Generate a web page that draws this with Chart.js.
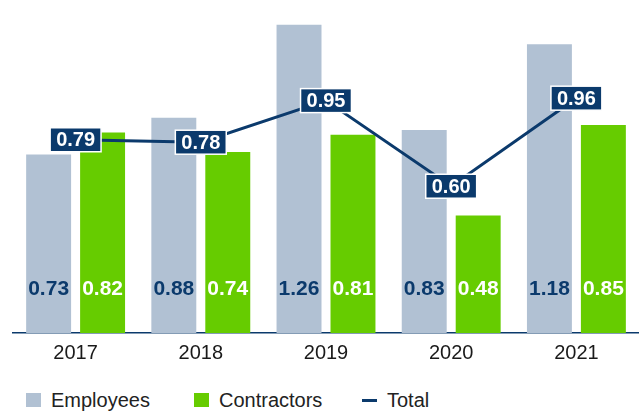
<!DOCTYPE html>
<html>
<head>
<meta charset="utf-8">
<script src="https://cdn.jsdelivr.net/npm/chart.js@4.4.0/dist/chart.umd.min.js"></script>
<style>
  body { margin: 0; background: #fff; font-family: "Liberation Sans", Arial, sans-serif; }
  #wrap { position: relative; width: 639px; height: 411px; }
  #chartBox { position: absolute; left: 0; top: 0; width: 639px; height: 365px; }
  #legend { position: absolute; left: 26px; top: 389px; height: 22px; display: flex; }
  .item { display: flex; align-items: center; width: 168px; font-size: 20px; color: #222; line-height: 22px; }
  .mark { display: inline-block; width: 15px; margin-right: 10px; }
</style>
</head>
<body>
<div id="wrap">
  <div id="chartBox"><canvas id="myChart"></canvas></div>
  <div id="legend"></div>
</div>
<script>
// Data
var years = ["2017", "2018", "2019", "2020", "2021"];
var employees = [0.73, 0.88, 1.26, 0.83, 1.18];
var contractors = [0.82, 0.74, 0.81, 0.48, 0.85];
var total = [0.79, 0.78, 0.95, 0.60, 0.96];

var navy = "#0b3a6c";
var grey = "#b1c1d3";
var green = "#66cc00";
var fontFamily = "'Liberation Sans', Arial, sans-serif";

// Value labels inside bars and boxed labels on the line
var valueLabels = {
    id: "valueLabels",
    afterDatasetsDraw: function (chart) {
        var ctx = chart.ctx;
        var base = chart.scales.y.getPixelForValue(0);
        ctx.save();
        ctx.textAlign = "center";
        ctx.textBaseline = "middle";
        chart.data.datasets.forEach(function (ds, i) {
            var meta = chart.getDatasetMeta(i);
            meta.data.forEach(function (el, j) {
                var txt = ds.data[j].toFixed(2);
                if (ds.type === "line") {
                    ctx.font = "bold 20px " + fontFamily;
                    var w = ctx.measureText(txt).width + 12;
                    var h = 24;
                    ctx.fillStyle = navy;
                    ctx.fillRect(el.x - w / 2, el.y - h / 2, w, h);
                    ctx.strokeStyle = "#ffffff";
                    ctx.lineWidth = 1.5;
                    ctx.strokeRect(el.x - w / 2, el.y - h / 2, w, h);
                    ctx.fillStyle = "#ffffff";
                    ctx.fillText(txt, el.x, el.y + 1);
                } else {
                    ctx.font = "bold 21px " + fontFamily;
                    ctx.fillStyle = ds.labelColor;
                    ctx.fillText(txt, el.x, base - 44);
                }
            });
        });
        ctx.restore();
    },
};

var ctx = document.getElementById("myChart").getContext("2d");

var myChart = new Chart(ctx, {
    data: {
        labels: years,
        datasets: [
            {
                type: "line",
                label: "Total",
                data: total,
                borderColor: navy,
                backgroundColor: navy,
                borderWidth: 3,
                pointRadius: 0,
                tension: 0,
                order: 0,
            },
            {
                type: "bar",
                label: "Employees",
                data: employees,
                backgroundColor: grey,
                labelColor: navy,
                barPercentage: 0.833,
                categoryPercentage: 0.862,
                order: 1,
            },
            {
                type: "bar",
                label: "Contractors",
                data: contractors,
                backgroundColor: green,
                labelColor: "#ffffff",
                barPercentage: 0.833,
                categoryPercentage: 0.862,
                order: 1,
            },
        ],
    },
    options: {
        responsive: true,
        maintainAspectRatio: false,
        animation: false,
        layout: { padding: { left: 13, right: 0, top: 15, bottom: 0 } },
        plugins: {
            legend: { display: false },
            tooltip: { enabled: false },
        },
        scales: {
            x: {
                grid: { display: false },
                border: { display: true, color: navy, width: 1.5 },
                ticks: {
                    color: "#1a1a1a",
                    padding: 0,
                    font: { size: 20, family: fontFamily },
                },
            },
            y: {
                display: false,
                min: 0,
                max: 1.3,
            },
        },
    },
    plugins: [valueLabels],
});

// HTML legend in the original order: Employees, Contractors, Total
var legendOrder = ["Employees", "Contractors", "Total"];
var legendBox = document.getElementById("legend");
legendOrder.forEach(function (name) {
    var ds = myChart.data.datasets.find(function (d) { return d.label === name; });
    var item = document.createElement("div");
    item.className = "item";
    var mark = document.createElement("span");
    mark.className = "mark";
    mark.style.background = ds.type === "line" ? ds.borderColor : ds.backgroundColor;
    mark.style.height = ds.type === "line" ? "3px" : "14px";
    item.appendChild(mark);
    item.appendChild(document.createTextNode(ds.label));
    legendBox.appendChild(item);
});
</script>
</body>
</html>
